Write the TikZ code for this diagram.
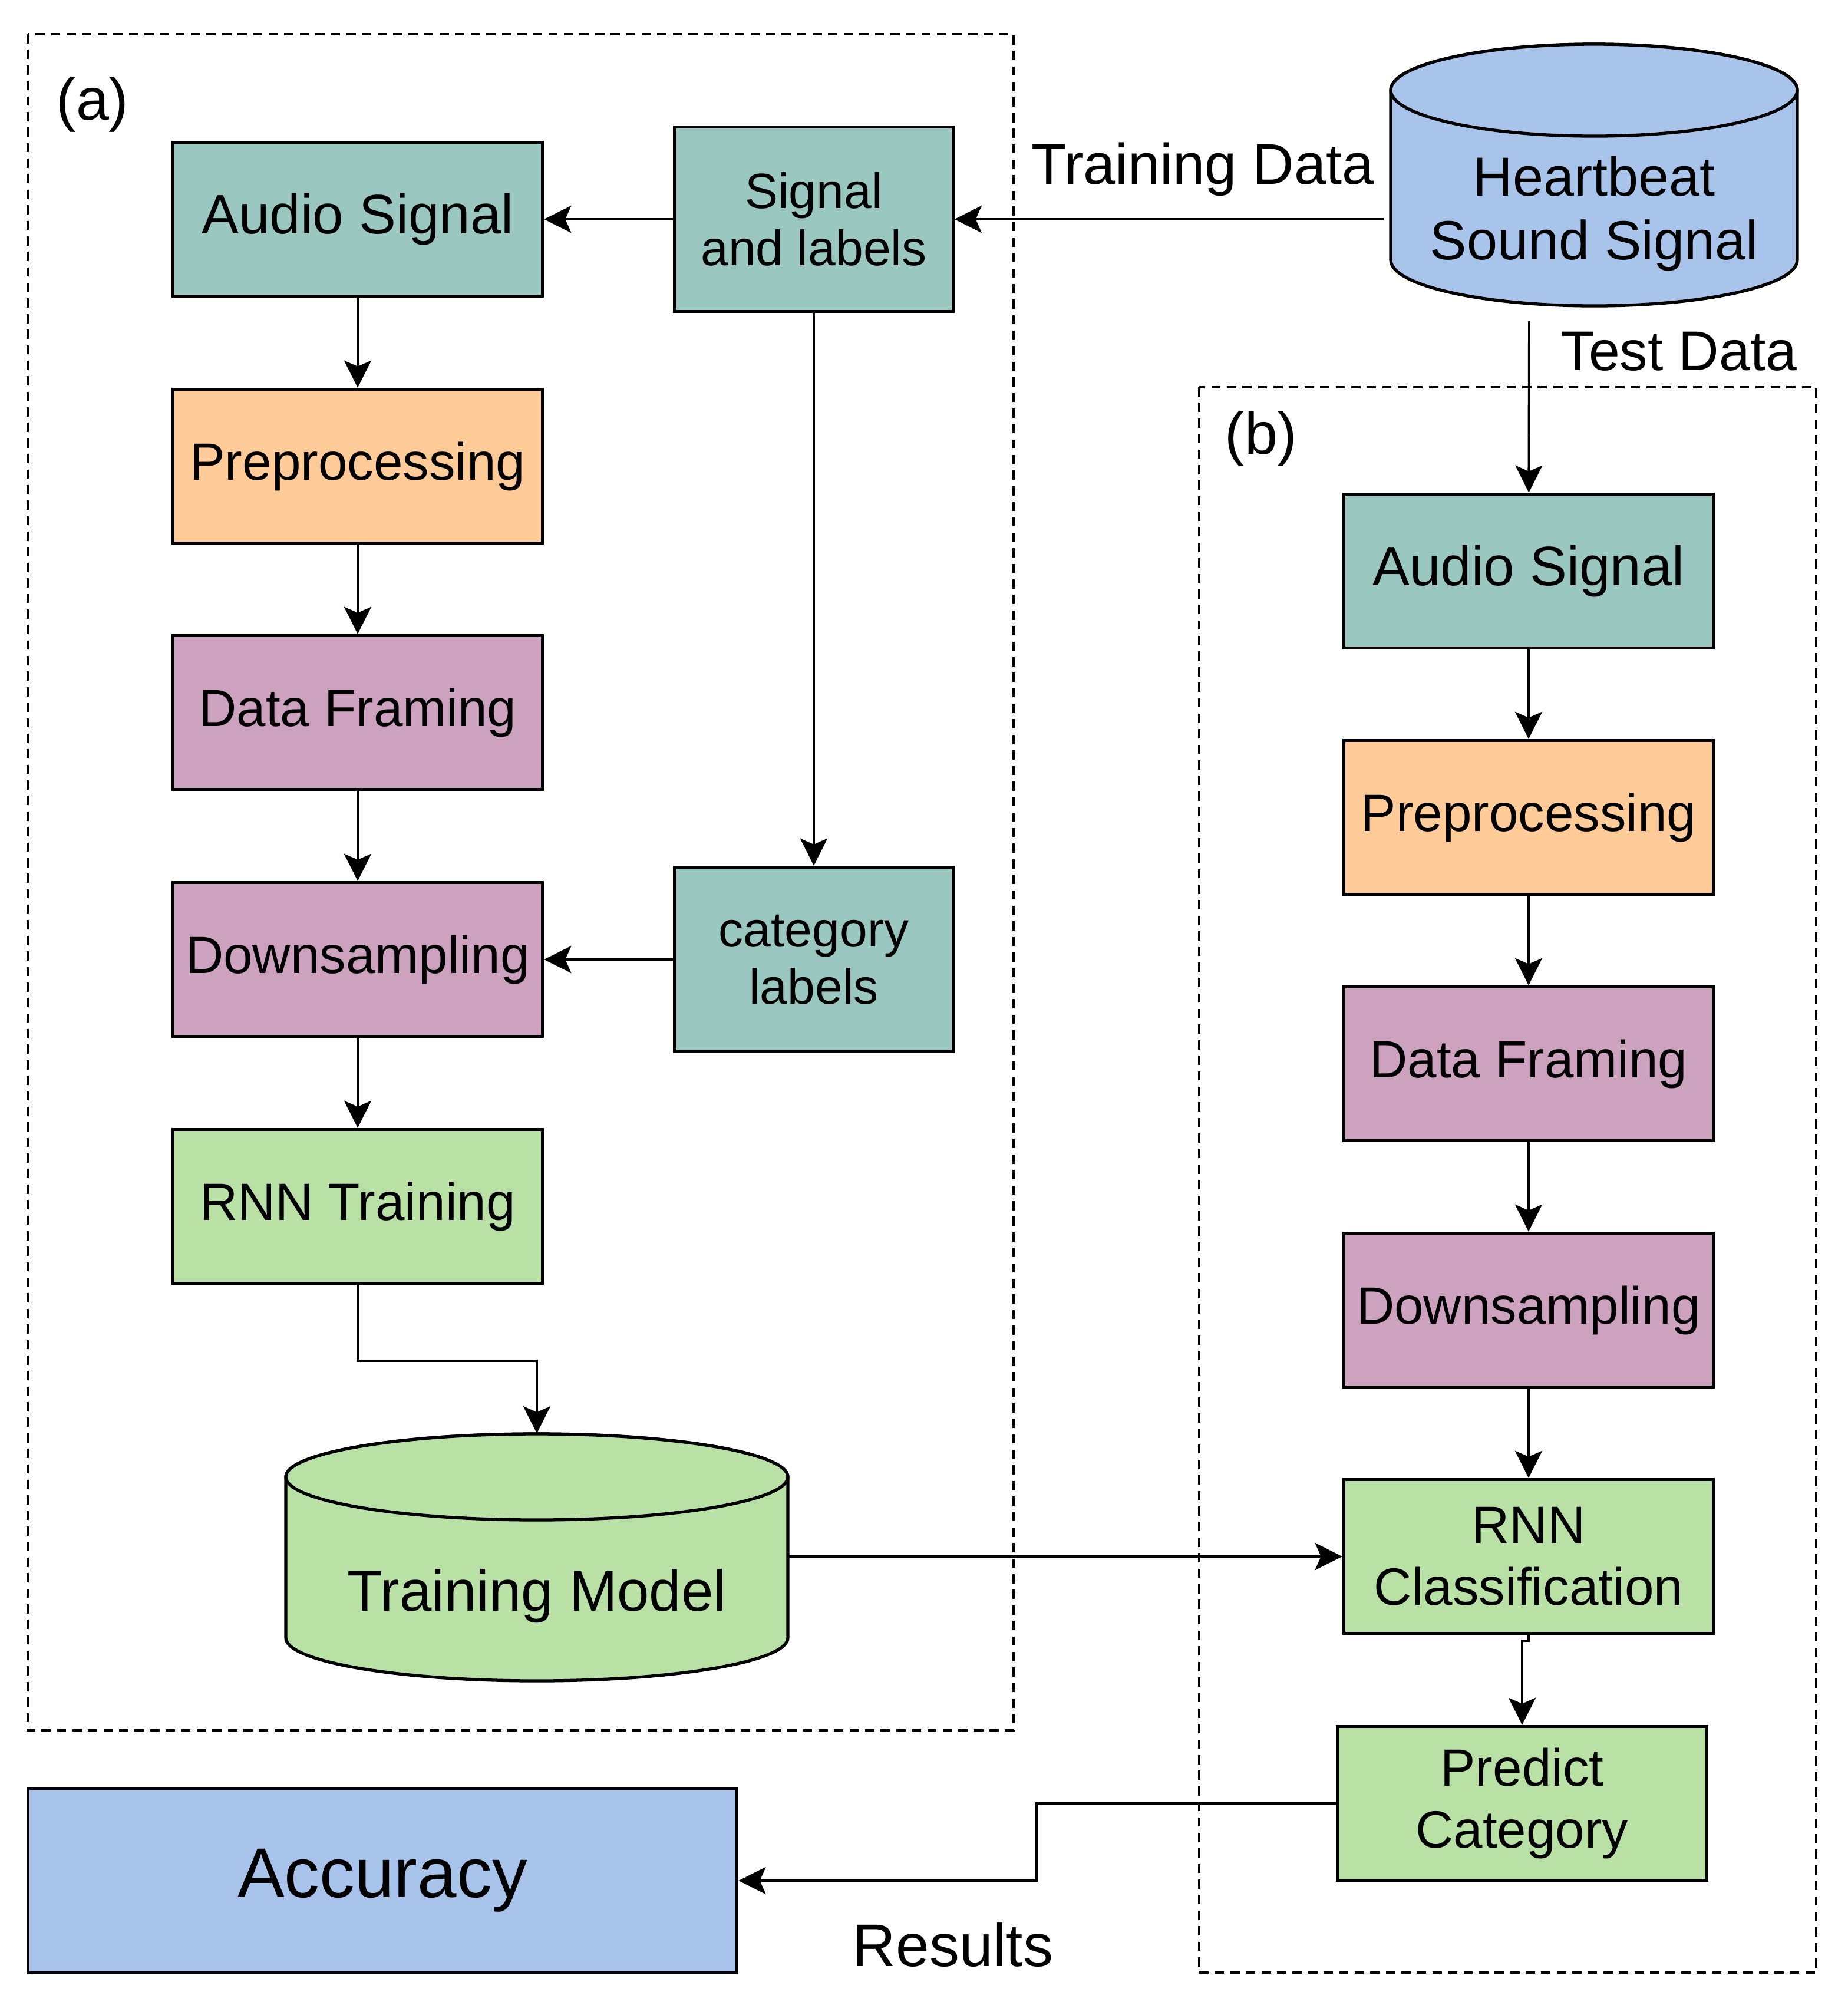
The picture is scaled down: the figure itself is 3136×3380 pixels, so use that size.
\documentclass[tikz,border=0pt]{standalone}
\usepackage{fontspec}
\setmainfont{Liberation Sans}
\usetikzlibrary{arrows.meta}
\definecolor{sigteal}{HTML}{9AC7BF}
\definecolor{prepeach}{HTML}{FFCC99}
\definecolor{framemauve}{HTML}{CDA2BE}
\definecolor{nnleaf}{HTML}{B9E0A5}
\definecolor{dbsky}{HTML}{A9C4EB}
\tikzset{stage/.style = {rectangle, draw, line width=1.5pt, minimum width=6.27cm, minimum height=2.61cm,
                         inner sep=0pt, align=center, font=\fontsize{25.3}{30}\selectfont},
           tag/.style = {stage, minimum width=4.72cm, minimum height=3.13cm, font=\fontsize{23.9}{27.6}\selectfont},
          drum/.style = {inner sep=0pt, align=center},
          note/.style = {inner sep=0pt, font=\fontsize{27.7}{33}\selectfont},
         group/.style = {dash pattern=on 4.5pt off 3pt, line width=1.1pt},
          flow/.style = {->, line width=1.1pt}}

\begin{document}
\begin{tikzpicture}[x=0.01cm, y=-0.01cm, >={Stealth[length=0.46cm, width=0.46cm, inset=0.1cm]}]
    \useasboundingbox (0,0) rectangle (3136,3380);
    % dashed groups
    \draw[group] (47,58) rectangle (1720,2936);
    \draw[group] (2035,657) rectangle (3082,3347);
    % cylinders
    \filldraw[line width=1.5pt, fill=dbsky] (2360,153) -- (2360,441) arc[start angle=180, end angle=0, x radius=345, y radius=78]
        -- (3050,153) arc[start angle=0, end angle=-180, x radius=345, y radius=78] -- cycle;
    \draw[line width=1.5pt, fill=dbsky] (2705,153) ellipse[x radius=345, y radius=78];
    \filldraw[line width=1.5pt, fill=nnleaf] (485,2506) -- (485,2779) arc[start angle=180, end angle=0, x radius=426, y radius=73]
        -- (1337,2506) arc[start angle=0, end angle=-180, x radius=426, y radius=73] -- cycle;
    \draw[line width=1.5pt, fill=nnleaf] (911,2506) ellipse[x radius=426, y radius=73];
    % training side
    \node[note, font=\fontsize{28.6}{34}\selectfont] (taga) at (157,177) {(a)};
    \node[stage, fill=sigteal, font=\fontsize{26.8}{32}\selectfont] (audA) at (607,372) {Audio Signal};
    \node[tag, fill=sigteal] (sig) at (1381,372) {Signal\\and labels};
    \node[stage, fill=prepeach] (preA) at (607,791) {Preprocessing};
    \node[stage, fill=framemauve] (frameA) at (607,1209) {Data Framing};
    \node[stage, fill=framemauve] (downA) at (607,1628) {Downsampling};
    \node[tag, fill=sigteal] (cat) at (1381,1628) {category\\labels};
    \node[stage, fill=nnleaf] (rnnA) at (607,2047) {RNN Training};
    \node[drum, minimum width=8.52cm, minimum height=5.5cm, font=\fontsize{27.8}{33}\selectfont] (model) at (911,2708) {Training Model};
    % data source
    \node[drum, minimum width=6.9cm, minimum height=5.74cm, font=\fontsize{26.6}{30.6}\selectfont] (heart) at (2705,362) {Heartbeat\\Sound Signal};
    \node[note] (train) at (2041,287) {Training Data};
    \node[note, font=\fontsize{27}{32}\selectfont] (test) at (2849,596) {Test Data};
    \coordinate (testin) at (2595,545);
    % testing side
    \node[note, font=\fontsize{28.6}{34}\selectfont] (tagb) at (2140,744) {(b)};
    \node[stage, fill=sigteal, font=\fontsize{26.8}{32}\selectfont] (audB) at (2594,969) {Audio Signal};
    \node[stage, fill=prepeach] (preB) at (2594,1387) {Preprocessing};
    \node[stage, fill=framemauve] (frameB) at (2594,1805) {Data Framing};
    \node[stage, fill=framemauve] (downB) at (2594,2223) {Downsampling};
    \node[stage, fill=nnleaf] (rnnB) at (2594,2641) {RNN\\Classification};
    \node[stage, fill=nnleaf] (pred) at (2583,3060) {Predict\\Category};
    \node[stage, fill=dbsky, minimum width=12.03cm, minimum height=3.13cm, font=\fontsize{34}{40}\selectfont] (acc) at (649,3191) {Accuracy};
    \node[note, font=\fontsize{29}{34}\selectfont] (res) at (1617,3300) {Results};
    % connectors
    \draw[flow, shorten <=0.11cm] (heart.west |- sig.east) -- (sig.east);
    \draw[flow] (sig) -- (audA);
    \draw[flow] (audA) -- (preA);
    \draw[flow] (preA) -- (frameA);
    \draw[flow] (frameA) -- (downA);
    \draw[flow] (sig) -- (cat);
    \draw[flow] (cat) -- (downA);
    \draw[flow] (downA) -- (rnnA);
    \draw[flow] (rnnA.south) -- ++(0,129) -| (model.north);
    \draw[flow] (model.east |- rnnB.west) -- (rnnB.west);
    \draw[flow] (testin) -- (audB);
    \draw[flow] (audB) -- (preB);
    \draw[flow] (preB) -- (frameB);
    \draw[flow] (frameB) -- (downB);
    \draw[flow] (downB) -- (rnnB);
    \draw[flow] (rnnB.south) -- ++(0,10) -| (pred.north);
    \draw[flow] (pred.west) -- ++(-508,0) |- (acc.east);
\end{tikzpicture}
\end{document}
